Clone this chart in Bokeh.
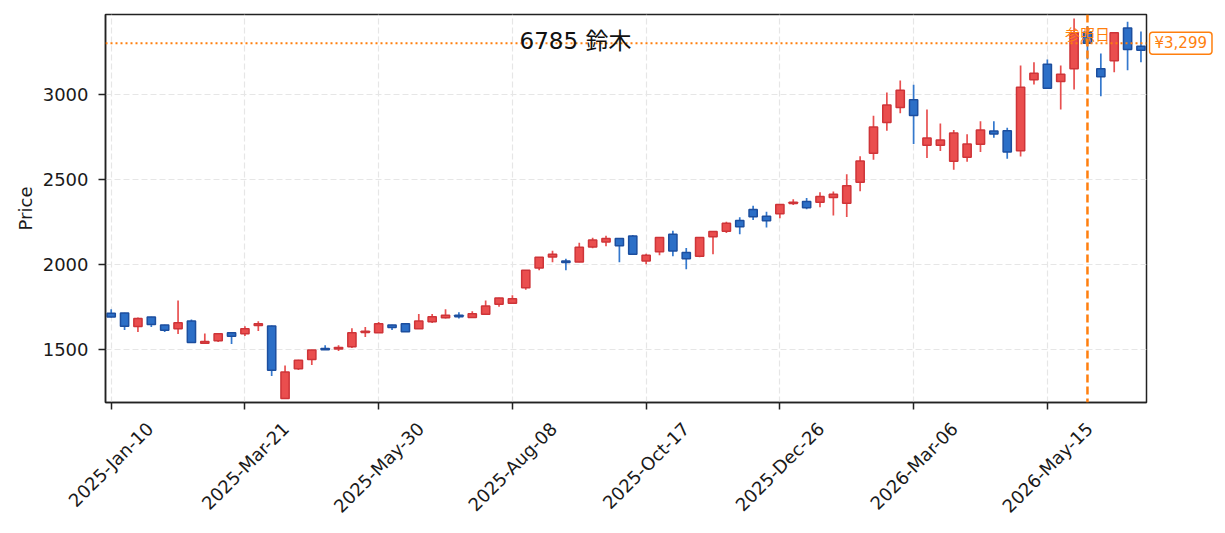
import pandas as pd
from math import pi, cos
from bokeh.plotting import figure
from bokeh.layouts import row
from bokeh.models import (ColumnDataSource, Range1d, FixedTicker, Span, Label,
                          DatetimeAxis)
from bokeh.embed import file_html
from bokeh.resources import INLINE

TITLE = "6785 鈴木"
Y_LABEL = "Price"
REF_TEXT = "参照日"
START = "2025-01-10"
REF_INDEX = 73

opens = [1712, 1714, 1634, 1690, 1643, 1622, 1667, 1536, 1551, 1598,
         1592, 1640, 1637, 1212, 1386, 1441, 1506, 1503, 1516, 1600,
         1598, 1643, 1651, 1622, 1663, 1686, 1700, 1688, 1706, 1765,
         1771, 1863, 1979, 2043, 2020, 2014, 2102, 2131, 2152, 2166,
         2020, 2074, 2176, 2070, 2047, 2162, 2195, 2258, 2322, 2283,
         2297, 2357, 2369, 2365, 2392, 2359, 2482, 2652, 2834, 2922,
         2967, 2699, 2699, 2605, 2629, 2705, 2783, 2785, 2668, 3084,
         3176, 3075, 3149, 3364, 3149, 3196, 3388, 3282]
highs = [1736, 1716, 1688, 1692, 1645, 1788, 1675, 1594, 1594, 1600,
         1636, 1665, 1640, 1406, 1439, 1498, 1524, 1524, 1624, 1632,
         1661, 1645, 1653, 1708, 1708, 1736, 1718, 1724, 1788, 1804,
         1818, 1967, 2043, 2080, 2033, 2127, 2156, 2168, 2154, 2172,
         2062, 2160, 2197, 2096, 2160, 2195, 2250, 2277, 2344, 2309,
         2354, 2383, 2389, 2424, 2428, 2529, 2635, 2873, 3010, 3080,
         3055, 2910, 2828, 2789, 2764, 2840, 2840, 2803, 3168, 3187,
         3204, 3169, 3445, 3400, 3239, 3362, 3425, 3368]
lows = [1688, 1614, 1602, 1632, 1602, 1590, 1539, 1534, 1543, 1532,
        1579, 1608, 1343, 1210, 1379, 1408, 1496, 1490, 1508, 1573,
        1596, 1614, 1602, 1620, 1655, 1681, 1681, 1686, 1704, 1751,
        1769, 1850, 1965, 2012, 1965, 2012, 2094, 2106, 2012, 2055,
        2000, 2053, 2047, 1971, 2041, 2059, 2184, 2176, 2260, 2217,
        2270, 2348, 2324, 2336, 2287, 2278, 2430, 2615, 2785, 2887,
        2707, 2625, 2666, 2555, 2602, 2660, 2744, 2621, 2633, 3057,
        3030, 2910, 3028, 3204, 2988, 3129, 3141, 3188]
closes = [1690, 1636, 1681, 1647, 1612, 1657, 1541, 1546, 1592, 1577,
          1622, 1651, 1377, 1367, 1437, 1496, 1498, 1511, 1598, 1606,
          1651, 1628, 1604, 1667, 1692, 1700, 1692, 1710, 1755, 1802,
          1798, 1965, 2041, 2059, 2010, 2100, 2143, 2152, 2109, 2059,
          2053, 2158, 2078, 2033, 2158, 2193, 2242, 2221, 2279, 2256,
          2352, 2365, 2332, 2398, 2412, 2461, 2607, 2807, 2936, 3023,
          2875, 2742, 2730, 2771, 2707, 2789, 2766, 2660, 3041, 3123,
          3034, 3117, 3361, 3299, 3102, 3361, 3263, 3258]

TICK_DATES = ["2025-01-10", "2025-03-21", "2025-05-30", "2025-08-08",
              "2025-10-17", "2025-12-26", "2026-03-06", "2026-05-15"]
TICK_LABELS = ["2025-Jan-10", "2025-Mar-21", "2025-May-30", "2025-Aug-08",
               "2025-Oct-17", "2025-Dec-26", "2026-Mar-06", "2026-May-15"]
Y_TICKS = [1500, 2000, 2500, 3000]

UP_FILL, UP_EDGE, UP_WICK = "#ea4e4e", "#ce3438", "#e85050"
DN_FILL, DN_EDGE, DN_WICK = "#2c6fc7", "#1c4e9e", "#3478cd"
ORANGE = "#ff7f0e"
INK = "#1a1a1a"
FONT = "DejaVu Sans, Noto Sans CJK JP"
TICK_PX = 18

DAY = 86400000.0
dates = pd.date_range(START, periods=len(opens), freq="7D")
xs = [d.value / 1e6 for d in dates]
up = [c >= o for o, c in zip(opens, closes)]
src = ColumnDataSource(dict(
    x=xs,
    top=[max(o, c) for o, c in zip(opens, closes)],
    bottom=[min(o, c) for o, c in zip(opens, closes)],
    high=highs, low=lows,
    fill=[UP_FILL if u else DN_FILL for u in up],
    edge=[UP_EDGE if u else DN_EDGE for u in up],
    wick=[UP_WICK if u else DN_WICK for u in up],
))

# layout constants (pixels)
LEFT, TOP, FRAME_W, FRAME_H = 105, 14, 1041, 388
RIGHT_PAD = 2
MAIN_W = LEFT + FRAME_W + RIGHT_PAD
MAIN_H = 530
RIGHT_W = 72

x0 = xs[0]
x_start, x_end = x0 - 2.98 * DAY, x0 + 541.9 * DAY
xr = Range1d(x_start, x_end)
yr = Range1d(1188, 3468)
ms_per_px = (x_end - x_start) / FRAME_W

p = figure(width=MAIN_W, height=MAIN_H, output_backend="svg", toolbar_location=None,
           x_axis_type="datetime", x_range=xr, y_range=yr,
           min_border_left=LEFT, min_border_right=RIGHT_PAD, min_border_top=TOP,
           min_border_bottom=MAIN_H - TOP - FRAME_H)
p.background_fill_color = "white"
p.border_fill_color = "white"
p.outline_line_color = "#222222"
p.outline_line_width = 1.5

tick_ms = [pd.Timestamp(t).value / 1e6 for t in TICK_DATES]
xa = p.xaxis[0]
ya = p.yaxis[0]
xa.ticker = FixedTicker(ticks=tick_ms)
xa.major_label_overrides = {t: "" for t in tick_ms}
xa.major_label_text_font_size = "0px"
xa.major_label_standoff = 0
ya.ticker = FixedTicker(ticks=Y_TICKS)
for ax in (xa, ya):
    ax.axis_line_color = "#222222"
    ax.axis_line_width = 1.5
    ax.major_tick_line_color = "#222222"
    ax.major_tick_line_width = 1.5
    ax.major_tick_out = 7
    ax.major_tick_in = 0
    ax.minor_tick_line_color = None
    ax.major_label_text_font = FONT
    ax.major_label_text_color = INK
ya.major_label_text_font_size = "18px"
ya.major_label_standoff = 10
ya.axis_label = Y_LABEL
ya.axis_label_text_font = FONT
ya.axis_label_text_font_size = "18px"
ya.axis_label_text_font_style = "normal"
ya.axis_label_text_color = INK
ya.axis_label_standoff = 4

# date labels: rotated 45 degrees and centred on each tick (the label's right end
# is placed half its length, projected, to the right of the tick)
W = dict(zip("0123456789", [0.636] * 10))
W.update({"-": 0.361, "J": 0.295, "a": 0.613, "n": 0.634, "M": 0.863, "r": 0.411,
          "y": 0.592, "A": 0.684, "u": 0.634, "g": 0.635, "O": 0.787, "c": 0.55,
          "t": 0.392, "D": 0.770, "e": 0.615})
lab_ticks, lab_over = [], {}
for t, lab in zip(tick_ms, TICK_LABELS):
    length = sum(W.get(ch, 0.6) for ch in lab) * TICK_PX
    s = int(round(t + 0.5 * length * cos(pi / 4) * ms_per_px))
    lab_ticks.append(s)
    lab_over[s] = lab
la = DatetimeAxis(ticker=FixedTicker(ticks=lab_ticks), major_label_overrides=lab_over,
                  major_label_orientation=pi / 4, axis_line_color=None,
                  major_tick_line_color=None, minor_tick_line_color=None,
                  major_tick_out=0, major_tick_in=0, major_label_standoff=16,
                  major_label_text_font=FONT, major_label_text_font_size=f"{TICK_PX}px",
                  major_label_text_color=INK)
p.add_layout(la, "below")

for g in (p.xgrid[0], p.ygrid[0]):
    g.grid_line_color = "#e6e6e6"
    g.grid_line_width = 1.2
    g.grid_line_dash = "6 3"
p.xgrid[0].ticker = FixedTicker(ticks=tick_ms)

p.segment(x0="x", y0="low", x1="x", y1="high", source=src, line_color="wick", line_width=1.7)
p.vbar(x="x", width=4.3 * DAY, top="top", bottom="bottom", source=src,
       fill_color="fill", line_color="edge", line_width=1.5)

ref_x = xs[REF_INDEX]
ref_price = closes[REF_INDEX]
p.add_layout(Span(location=ref_price, dimension="width", line_color=ORANGE,
                  line_width=2, line_dash="2 3"))
p.add_layout(Span(location=ref_x, dimension="height", line_color=ORANGE,
                  line_width=2.5, line_dash="8 4"))

p.add_layout(Label(x=470, y=362, x_units="screen", y_units="screen", text=TITLE,
                   text_align="center", text_baseline="middle", text_font=FONT,
                   text_font_size="23px", text_color="#111111"))
p.add_layout(Label(x=ref_x, y=368, y_units="screen", text=REF_TEXT,
                   text_align="center", text_baseline="middle", text_font=FONT,
                   text_font_size="15px", text_color=ORANGE))

# price tag to the right of the frame
pr = figure(width=RIGHT_W, height=MAIN_H, output_backend="svg", toolbar_location=None,
            x_range=Range1d(0, RIGHT_W), y_range=yr,
            x_axis_location=None, y_axis_location=None,
            min_border_left=0, min_border_right=0, min_border_top=TOP,
            min_border_bottom=MAIN_H - TOP - FRAME_H)
pr.outline_line_color = None
pr.grid.visible = False
pr.background_fill_color = "white"
pr.border_fill_color = "white"
pr.add_layout(Label(x=1, y=ref_price, text="¥{:,}".format(ref_price),
                    text_align="left", text_baseline="middle", text_font=FONT,
                    text_font_size="15px", text_color=ORANGE,
                    background_fill_color="white", border_line_color=ORANGE,
                    border_line_width=1.5, padding=dict(left=5, right=5, top=2, bottom=2),
                    border_radius=3))

layout = row(p, pr, spacing=0)
open("out.html", "w").write(file_html(layout, INLINE))
